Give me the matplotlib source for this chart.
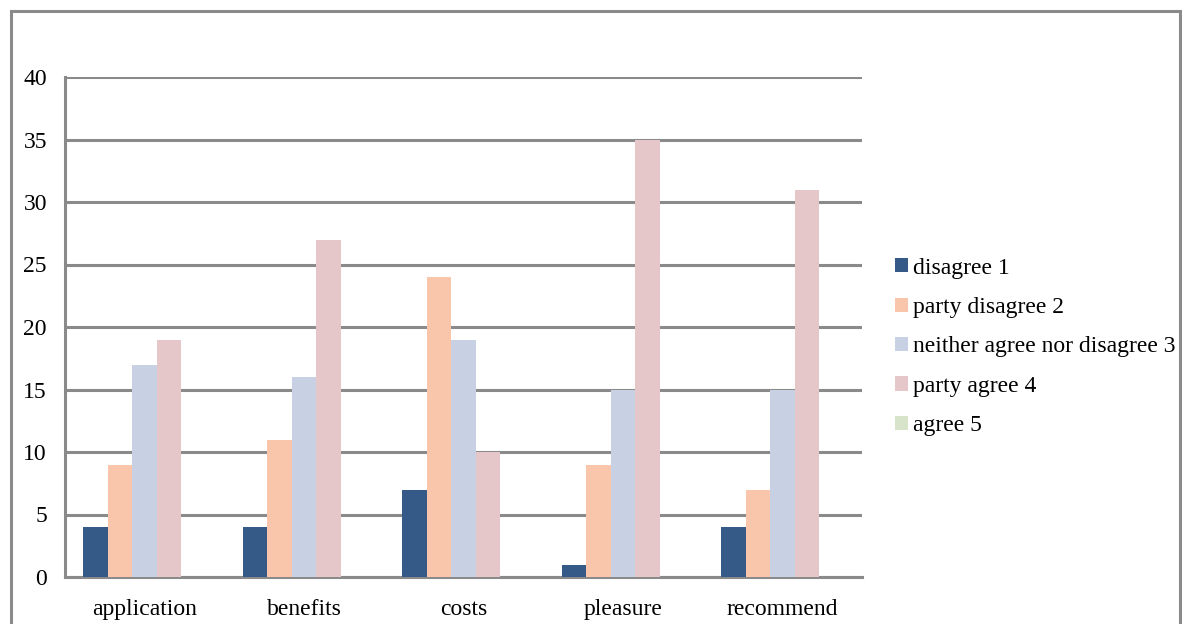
import numpy as np
import matplotlib
matplotlib.use('Agg')
import matplotlib.pyplot as plt
from matplotlib.patches import Rectangle

# chart data
categories = ['application', 'benefits', 'costs', 'pleasure', 'recommend']
series_names = ['disagree 1', 'party disagree 2', 'neither agree nor disagree 3',
                'party agree 4', 'agree 5']
disagree_1 = [4, 4, 7, 1, 4]
party_disagree_2 = [9, 11, 24, 9, 7]
neither_3 = [17, 16, 19, 15, 15]
party_agree_4 = [19, 27, 10, 35, 31]
agree_5 = [0, 0, 0, 0, 0]
colors = ['#365a87', '#f9c6ab', '#c7d1e3', '#e5c6c9', '#d8e4ca']

plt.rcParams['font.family'] = ['Liberation Serif', 'DejaVu Serif']
grey = '#8a8a8a'
fs = 17

fig = plt.figure(figsize=(11.82, 6.24), dpi=100)
ax = fig.add_axes([65 / 1182, 47 / 624, (862 - 65) / 1182, 500 / 624])

# outer frame of the chart area
fig.patches.append(Rectangle((10.5 / 1182, -0.05), 1169 / 1182, 1.05 - 10.5 / 624,
                             transform=fig.transFigure, fill=False,
                             edgecolor=grey, linewidth=2.2))

x = np.arange(len(categories))
w = 0.1537
all_series = [disagree_1, party_disagree_2, neither_3, party_agree_4, agree_5]
for i, (vals, name) in enumerate(zip(all_series, series_names)):
    ax.bar(x + (i - 2) * w, vals, w, color=colors[i], label=name, zorder=3)

ax.set_xlim(-0.5, 4.5)
ax.set_ylim(0, 40)
ax.set_yticks(range(0, 41, 5))
ax.set_xticks(x)
ax.set_xticklabels(categories)
ax.yaxis.grid(True, color=grey, linewidth=2.2, zorder=0)
ax.set_axisbelow(True)
for s in ['top', 'right']:
    ax.spines[s].set_visible(False)
for s in ['left', 'bottom']:
    ax.spines[s].set_color(grey)
    ax.spines[s].set_linewidth(2.2)
ax.tick_params(axis='both', length=0, labelsize=fs)
ax.tick_params(axis='y', pad=13)
ax.tick_params(axis='x', pad=16)

fig.legend(loc='center left', bbox_to_anchor=(895 / 1182, (624 - 347) / 624),
           frameon=False, fontsize=fs, handlelength=0.55, handleheight=0.55,
           handletextpad=0.22, labelspacing=0.78, borderpad=0, borderaxespad=0)

fig.savefig('out.png', dpi=100)
